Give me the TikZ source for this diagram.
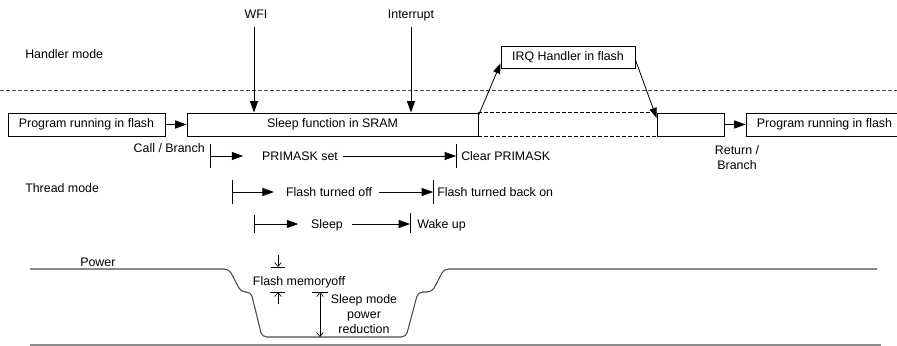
\documentclass[tikz,border=0pt]{standalone}
\usepackage{fontspec}
\setmainfont{Liberation Sans}
\usetikzlibrary{arrows.meta}
\begin{document}
\begin{tikzpicture}[x=0.75pt,y=-0.75pt,
  every node/.style={font=\fontsize{9.3}{11.25}\selectfont, inner sep=0pt},
  box/.style={draw, line width=0.7pt, minimum height={23*0.75pt}, inner sep=0pt},
  ln/.style={line width=0.7pt},
  arr/.style={ln, -{Triangle[length=8.5pt,width=6pt]}},
  sarr/.style={line width=0.6pt, -{Triangle[length=7.5pt,width=5.5pt]}},
  barb/.style={line width=0.5pt, -{Straight Barb[length=3pt,width=5pt]}},
  dbarb/.style={line width=0.5pt, {Straight Barb[length=3pt,width=5pt]}-{Straight Barb[length=3pt,width=5pt]}},
  tk/.style={line width=0.5pt},
  modeline/.style={line width=0.6pt, black!70, dash pattern=on 3pt off 1.5pt},
  cont/.style={line width=0.6pt, dash pattern=on 3pt off 1.5pt},
  pwr/.style={line width=0.8pt, black!70, rounded corners=3.5pt},
]
\useasboundingbox (0,0) rectangle (897,346);
\clip (0,0) rectangle (897,346);

% mode labels and separator
\node[anchor=base west] (hm) at (25,58.5) {Handler mode};
\node[anchor=base west] (tm) at (25,192.5) {Thread mode};
\draw[modeline] (0,90) -- (897,90);

% boxes
\node[box, minimum width={157*0.75pt}] (prog1) at (86.5,124.5) {Program running in flash};
\node[box, minimum width={291*0.75pt}] (sleepf) at (332.5,124.5) {Sleep function in SRAM};
\node[box, minimum width={67*0.75pt}] (resume) at (690.5,124.5) {};
\node[box, minimum width={157*0.75pt}] (prog2) at (824.5,124.5) {Program running in flash};
\node[box, minimum width={134*0.75pt}, minimum height={22*0.75pt}] (irq) at (568,57) {IRQ Handler in flash};

\draw[cont] (sleepf.north east) -- (resume.north west);
\draw[cont] (sleepf.south east) -- (resume.south west);

\draw[arr] (prog1) -- (sleepf);
\draw[arr] (resume) -- (prog2);

% WFI and interrupt
\node[anchor=base] (wfi) at (256,18.5) {WFI};
\node[anchor=base] (intr) at (411,18.5) {Interrupt};
\draw[arr] ([xshift=-1.5pt,yshift=-6pt]wfi.south) -- ([xshift=-1.5pt]wfi.south |- sleepf.north);
\draw[arr] ([yshift=-4pt]intr.south) -- (intr.south |- sleepf.north);

% IRQ handler path
\draw[sarr] ([yshift=-2.25pt]sleepf.north east) -- ([yshift=3.75pt]irq.south west);
\draw[sarr] ([yshift=-2.25pt]irq.east) -- ([yshift=-4pt]resume.north west);

\node[anchor=base east] (cb) at (205,152.5) {Call / Branch};
\node[align=center] (rb) at (737,157.5) {Return /\\Branch};

% PRIMASK row
\coordinate (pa) at (210,156);
\coordinate (pb) at (456,156);
\node[anchor=base] (pm) at (300,160.5) {PRIMASK set};
\draw[tk] (pa) ++(0,-12) -- ++(0,24);
\draw[tk] (pb) ++(0,-12) -- ++(0,24);
\draw[arr, line width=0.5pt, shorten >=14pt] (pa) -- (pa -| pm.west);
\draw[arr, line width=0.5pt, shorten <=3.75pt] (pa -| pm.east) -- (pb);
\node[anchor=base west] (cpm) at (461,160.5) {Clear PRIMASK};

% Flash row
\coordinate (fa) at (232,192);
\coordinate (fb) at (433,192);
\node[anchor=base] (fo) at (329,196.5) {Flash turned off};
\draw[tk] (fa) ++(0,-12) -- ++(0,24);
\draw[tk] (fb) ++(0,-12) -- ++(0,24);
\draw[arr, line width=0.5pt, shorten >=9pt] (fa) -- (fa -| fo.west);
\draw[arr, line width=0.5pt, shorten <=5pt] (fa -| fo.east) -- (fb);
\node[anchor=base west] (fbo) at (437,196.5) {Flash turned back on};

% Sleep row
\coordinate (sa) at (254,224);
\coordinate (sb) at (410,224);
\node[anchor=base] (sl) at (327,228.5) {Sleep};
\draw[tk] (sa) ++(0,-9) -- ++(0,18);
\draw[tk] (sb) ++(0,-11) -- ++(0,20);
\draw[arr, line width=0.5pt, shorten >=9.5pt] (sa) -- (sa -| sl.west);
\draw[arr, line width=0.5pt, shorten <=6.5pt] (sa -| sl.east) -- (sb);
\node[anchor=base west] (wu) at (417,228.5) {Wake up};

% Power waveform
\node[anchor=base west] (pw) at (80,266.5) {Power};
\draw[pwr] (30,269) -- (229,269) -- (241,292) -- (251,292) -- (262,337) -- (406,337)
  -- (418,292) -- (432,292) -- (444,269) -- (877,269);
\draw[line width=0.8pt, black!45] (30,345) -- (881,345);

% Flash memory off annotation
\draw[barb] (278,255) -- (278,267);
\draw[tk] (271,267) -- (285,267);
\draw[tk] (270,292) -- (285,292);
\draw[barb] (278,304) -- (278,292);
\node[anchor=base] (fmo) at (299,285.5) {Flash memoryoff};

% Sleep mode power reduction
\draw[tk] (312,292) -- (328,292);
\draw[dbarb] (320,292) -- (320,337);
\node[align=center] (smp) at (364,314) {Sleep mode\\power\\reduction};
\end{tikzpicture}
\end{document}
